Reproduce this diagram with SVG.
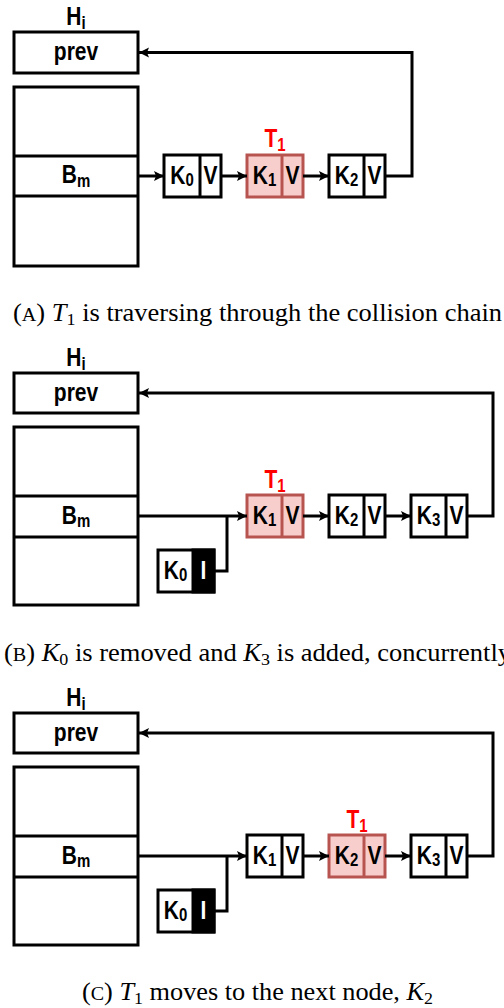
<svg xmlns="http://www.w3.org/2000/svg" width="504" height="1008" viewBox="0 0 504 1008">
<style>
.box{fill:#fff;stroke:#000;stroke-width:3}
.hot{fill:#f8cecc;stroke:#b85450;stroke-width:3}
.blk{fill:#000;stroke:#000;stroke-width:3}
.sep{stroke:#000;stroke-width:3}
.sephot{stroke:#b85450;stroke-width:3}
.lbl{font-family:"Liberation Sans",Arial,Helvetica,sans-serif;font-weight:bold;font-size:21px;text-anchor:middle;fill:#000}
.red{fill:#ff0000}
.wht{fill:#fff}
.sub{font-size:15px}
.wire{fill:none;stroke:#000;stroke-width:3}
.cap{font-family:"Liberation Serif","Times New Roman",serif;font-size:25px;fill:#000}
.sc{font-size:19px}
.it{font-style:italic}
.cs{font-size:17px}
</style>
<defs>
<marker id="ah" markerUnits="userSpaceOnUse" markerWidth="11" markerHeight="11" refX="10" refY="5" orient="auto">
<path d="M0,0 L10,5 L0,10 L2,5 z" fill="#000"/>
</marker>
</defs>

<!-- ===== Panel A ===== -->
<g id="a-hi"><text class="lbl" transform="translate(76,25) scale(1,1.2)">H<tspan class="sub" dy="3">i</tspan></text></g>
<g id="a-prev"><rect class="box" x="14" y="32" width="124" height="41"/><text class="lbl" transform="translate(76,60) scale(1,1.2)">prev</text></g>
<g id="a-table"><rect class="box" x="14" y="87" width="124" height="179"/><line class="sep" x1="14" y1="156" x2="138" y2="156"/><line class="sep" x1="14" y1="196" x2="138" y2="196"/><text class="lbl" transform="translate(76,183) scale(1,1.2)">B<tspan class="sub" dy="3">m</tspan></text></g>
<g id="a-k0"><rect class="box" x="164" y="155" width="57" height="42"/><line class="sep" x1="200" y1="155" x2="200" y2="197"/><text class="lbl" transform="translate(182,184) scale(1,1.2)">K<tspan class="sub" dy="2">0</tspan></text><text class="lbl" transform="translate(210.5,184) scale(1,1.2)">V</text></g>
<g id="a-k1"><rect class="hot" x="247" y="155" width="56" height="42"/><line class="sephot" x1="282" y1="155" x2="282" y2="197"/><text class="lbl" transform="translate(264.5,184) scale(1,1.2)">K<tspan class="sub" dy="2">1</tspan></text><text class="lbl" transform="translate(292.5,184) scale(1,1.2)">V</text></g>
<g id="a-t1"><text class="lbl red" transform="translate(275,147) scale(1,1.2)">T<tspan class="sub" dy="3">1</tspan></text></g>
<g id="a-k2"><rect class="box" x="329" y="155" width="56" height="42"/><line class="sep" x1="364" y1="155" x2="364" y2="197"/><text class="lbl" transform="translate(346.5,184) scale(1,1.2)">K<tspan class="sub" dy="2">2</tspan></text><text class="lbl" transform="translate(374.5,184) scale(1,1.2)">V</text></g>
<g id="a-connectors">
<line class="wire" x1="138" y1="176" x2="164" y2="176" marker-end="url(#ah)"/>
<line class="wire" x1="221" y1="176" x2="247" y2="176" marker-end="url(#ah)"/>
<line class="wire" x1="303" y1="176" x2="329" y2="176" marker-end="url(#ah)"/>
<polyline class="wire" points="385,176 412,176 412,52.5 139,52.5" marker-end="url(#ah)"/>
</g>
<text id="cap-a" class="cap" x="13" y="321" textLength="489" lengthAdjust="spacingAndGlyphs">(<tspan class="sc">A</tspan>) <tspan class="it">T</tspan><tspan class="cs" dy="4">1</tspan><tspan dy="-4"> is traversing through the collision chain</tspan></text>

<!-- ===== Panel B ===== -->
<g id="b-hi"><text class="lbl" transform="translate(76,366) scale(1,1.2)">H<tspan class="sub" dy="3">i</tspan></text></g>
<g id="b-prev"><rect class="box" x="14" y="373" width="124" height="40"/><text class="lbl" transform="translate(76,400.5) scale(1,1.2)">prev</text></g>
<g id="b-table"><rect class="box" x="14" y="427" width="124" height="178"/><line class="sep" x1="14" y1="496" x2="138" y2="496"/><line class="sep" x1="14" y1="537" x2="138" y2="537"/><text class="lbl" transform="translate(76,523.5) scale(1,1.2)">B<tspan class="sub" dy="3">m</tspan></text></g>
<g id="b-k0"><rect class="box" x="158" y="550" width="56" height="42"/><rect class="blk" x="193" y="550" width="21" height="42"/><text class="lbl" transform="translate(175.5,579) scale(1,1.2)">K<tspan class="sub" dy="2">0</tspan></text><text class="lbl wht" transform="translate(203.5,579) scale(1,1.2)">I</text></g>
<g id="b-k1"><rect class="hot" x="247" y="495" width="56" height="42"/><line class="sephot" x1="282" y1="495" x2="282" y2="537"/><text class="lbl" transform="translate(264.5,524) scale(1,1.2)">K<tspan class="sub" dy="2">1</tspan></text><text class="lbl" transform="translate(292.5,524) scale(1,1.2)">V</text></g>
<g id="b-t1"><text class="lbl red" transform="translate(275,488) scale(1,1.2)">T<tspan class="sub" dy="3">1</tspan></text></g>
<g id="b-k2"><rect class="box" x="329" y="495" width="56" height="42"/><line class="sep" x1="364" y1="495" x2="364" y2="537"/><text class="lbl" transform="translate(346.5,524) scale(1,1.2)">K<tspan class="sub" dy="2">2</tspan></text><text class="lbl" transform="translate(374.5,524) scale(1,1.2)">V</text></g>
<g id="b-k3"><rect class="box" x="411" y="495" width="56" height="42"/><line class="sep" x1="446" y1="495" x2="446" y2="537"/><text class="lbl" transform="translate(428.5,524) scale(1,1.2)">K<tspan class="sub" dy="2">3</tspan></text><text class="lbl" transform="translate(456.5,524) scale(1,1.2)">V</text></g>
<g id="b-connectors">
<line class="wire" x1="138" y1="516" x2="247" y2="516" marker-end="url(#ah)"/>
<polyline class="wire" points="214,571 227,571 227,516"/>
<line class="wire" x1="303" y1="516" x2="329" y2="516" marker-end="url(#ah)"/>
<line class="wire" x1="385" y1="516" x2="411" y2="516" marker-end="url(#ah)"/>
<polyline class="wire" points="467,516 493,516 493,393 139,393" marker-end="url(#ah)"/>
</g>
<text id="cap-b" class="cap" x="4" y="661" textLength="507" lengthAdjust="spacingAndGlyphs">(<tspan class="sc">B</tspan>) <tspan class="it">K</tspan><tspan class="cs" dy="4">0</tspan><tspan dy="-4"> is removed and </tspan><tspan class="it">K</tspan><tspan class="cs" dy="4">3</tspan><tspan dy="-4"> is added, concurrently</tspan></text>

<!-- ===== Panel C ===== -->
<g id="c-hi"><text class="lbl" transform="translate(76,706) scale(1,1.2)">H<tspan class="sub" dy="3">i</tspan></text></g>
<g id="c-prev"><rect class="box" x="14" y="713" width="124" height="40"/><text class="lbl" transform="translate(76,740.5) scale(1,1.2)">prev</text></g>
<g id="c-table"><rect class="box" x="14" y="767" width="124" height="178"/><line class="sep" x1="14" y1="836" x2="138" y2="836"/><line class="sep" x1="14" y1="877" x2="138" y2="877"/><text class="lbl" transform="translate(76,863.5) scale(1,1.2)">B<tspan class="sub" dy="3">m</tspan></text></g>
<g id="c-k0"><rect class="box" x="158" y="890" width="56" height="42"/><rect class="blk" x="193" y="890" width="21" height="42"/><text class="lbl" transform="translate(175.5,919) scale(1,1.2)">K<tspan class="sub" dy="2">0</tspan></text><text class="lbl wht" transform="translate(203.5,919) scale(1,1.2)">I</text></g>
<g id="c-k1"><rect class="box" x="247" y="835" width="56" height="42"/><line class="sep" x1="282" y1="835" x2="282" y2="877"/><text class="lbl" transform="translate(264.5,864) scale(1,1.2)">K<tspan class="sub" dy="2">1</tspan></text><text class="lbl" transform="translate(292.5,864) scale(1,1.2)">V</text></g>
<g id="c-k2"><rect class="hot" x="329" y="835" width="56" height="42"/><line class="sephot" x1="364" y1="835" x2="364" y2="877"/><text class="lbl" transform="translate(346.5,864) scale(1,1.2)">K<tspan class="sub" dy="2">2</tspan></text><text class="lbl" transform="translate(374.5,864) scale(1,1.2)">V</text></g>
<g id="c-t1"><text class="lbl red" transform="translate(357,828) scale(1,1.2)">T<tspan class="sub" dy="3">1</tspan></text></g>
<g id="c-k3"><rect class="box" x="411" y="835" width="56" height="42"/><line class="sep" x1="446" y1="835" x2="446" y2="877"/><text class="lbl" transform="translate(428.5,864) scale(1,1.2)">K<tspan class="sub" dy="2">3</tspan></text><text class="lbl" transform="translate(456.5,864) scale(1,1.2)">V</text></g>
<g id="c-connectors">
<line class="wire" x1="138" y1="856" x2="247" y2="856" marker-end="url(#ah)"/>
<polyline class="wire" points="214,911 227,911 227,856"/>
<line class="wire" x1="303" y1="856" x2="329" y2="856" marker-end="url(#ah)"/>
<line class="wire" x1="385" y1="856" x2="411" y2="856" marker-end="url(#ah)"/>
<polyline class="wire" points="467,856 493,856 493,733 139,733" marker-end="url(#ah)"/>
</g>
<text id="cap-c" class="cap" x="82" y="1000" textLength="351" lengthAdjust="spacingAndGlyphs">(<tspan class="sc">C</tspan>) <tspan class="it">T</tspan><tspan class="cs" dy="4">1</tspan><tspan dy="-4"> moves to the next node, </tspan><tspan class="it">K</tspan><tspan class="cs" dy="4">2</tspan></text>
</svg>
